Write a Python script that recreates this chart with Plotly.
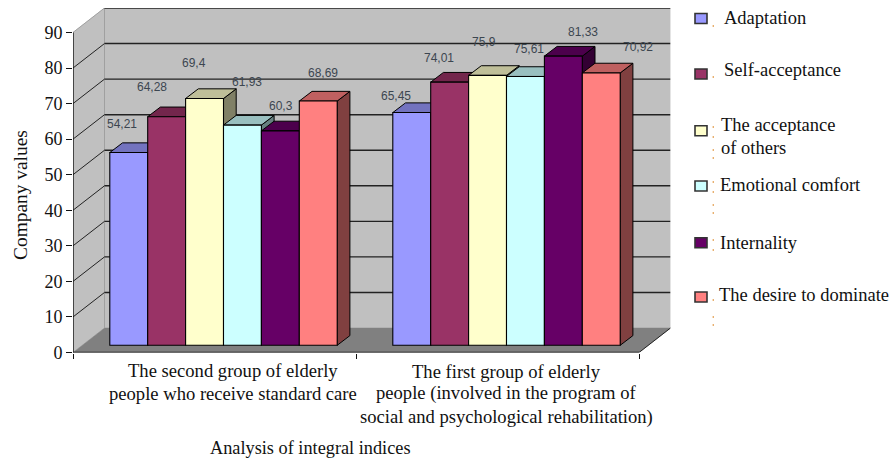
import plotly.graph_objects as go

GROUPS = ["second", "first"]
SERIES = ["Adaptation", "Self-acceptance", "The acceptance of others",
          "Emotional comfort", "Internality", "The desire to dominate"]
ADAPTATION = [54.21, 65.45]
SELF_ACCEPTANCE = [64.28, 74.01]
ACCEPTANCE_OTHERS = [69.4, 75.9]
EMOTIONAL_COMFORT = [61.93, 75.61]
INTERNALITY = [60.3, 81.33]
DESIRE_DOMINATE = [68.69, 76.6]
VALUES = [ADAPTATION, SELF_ACCEPTANCE, ACCEPTANCE_OTHERS,
          EMOTIONAL_COMFORT, INTERNALITY, DESIRE_DOMINATE]
VALUE_TEXT = [["54,21", "65,45"], ["64,28", "74,01"], ["69,4", "75,9"],
              ["61,93", "75,61"], ["60,3", "81,33"], ["68,69", "70,92"]]
COLORS = [(0x99, 0x99, 0xFF), (0x99, 0x33, 0x66), (0xFF, 0xFF, 0xCC),
          (0xCC, 0xFF, 0xFF), (0x66, 0x00, 0x66), (0xFF, 0x80, 0x80)]
LABEL_POS = [[(122, 124), (396, 96)], [(152, 87), (439, 58)], [(194, 63), (484, 42)],
             [(247, 82), (529, 49)], [(281, 106), (583, 32)], [(323, 73), (638, 47)]]
YTICKS = [0, 10, 20, 30, 40, 50, 60, 70, 80, 90]
GROUP_LINES = [("The second group of elderly", 232.5, 370),
               ("people who receive standard care", 232.5, 393),
               ("The first group of elderly", 506, 371),
               ("people (involved in the program of", 506, 393),
               ("social and psychological rehabilitation)", 506, 416.5)]
LEGEND_TEXT = [("Adaptation", 722, 18), ("Self-acceptance", 721.5, 70),
               ("The acceptance", 719, 125), ("of others", 719, 148),
               ("Emotional comfort", 718, 185), ("Internality", 718, 243),
               ("The desire to dominate", 716.5, 295)]
LEGEND_SWATCH_Y = [18.5, 74, 130.7, 186, 242.7, 297]
SPECK_Y = [26, 77, 127, 137, 150, 158, 182, 192, 205, 213, 240, 250, 300, 317, 325]

W, H = 890, 460
PX_L, PX_R, PX_B, PX_T = 73.0, 670.5, 352.5, 8.0
PX_PER_X = 283.0
PX_PER_Y = 3.561
WALL_DX, WALL_DY = 31.5 / PX_PER_X, 24.5 / PX_PER_Y
FRONT_DX, FRONT_DY = 9.0 / PX_PER_X, 7.2 / PX_PER_Y
BAR_DX, BAR_DY = 12.7 / PX_PER_X, 9.7 / PX_PER_Y
GAP, BAR_W = 27.8 / PX_PER_X, 37.9 / PX_PER_X
XMIN, XMAX = -0.5, 1.5
SERIF = "Liberation Serif, Times New Roman, serif"


def shade(c, f):
    return "rgb(%d,%d,%d)" % tuple(round(v * f) for v in c)


def poly(points, fill, line="#000000", width=1.0):
    path = "M " + " L ".join(f"{x:.5f} {y:.5f}" for x, y in points) + " Z"
    return dict(type="path", path=path, xref="x", yref="y", layer="below",
                fillcolor=fill, line=dict(color=line, width=width))


def seg(x0, y0, x1, y1, color="#000000", width=1.0):
    return dict(type="line", x0=x0, y0=y0, x1=x1, y1=y1, xref="x", yref="y", layer="below",
                line=dict(color=color, width=width))


def px(x, y):
    return x / W, 1 - y / H


shapes = []
# walls and floor
shapes.append(poly([(XMIN, 0), (XMIN + WALL_DX, WALL_DY), (XMIN + WALL_DX, 90 + WALL_DY), (XMIN, 90)],
                   "#C0C0C0", "#C0C0C0", 0.5))
shapes.append(poly([(XMIN + WALL_DX, WALL_DY), (XMAX + WALL_DX, WALL_DY),
                    (XMAX + WALL_DX, 90 + WALL_DY), (XMIN + WALL_DX, 90 + WALL_DY)],
                   "#C0C0C0", "#C0C0C0", 0.5))
shapes.append(poly([(XMIN, 0), (XMIN + WALL_DX, WALL_DY), (XMAX + WALL_DX, WALL_DY), (XMAX, 0)],
                   "#808080", "#808080", 0.5))
shapes.append(seg(XMIN + WALL_DX, WALL_DY, XMIN + WALL_DX, 90 + WALL_DY, "#A0A0A0", 1))
shapes.append(seg(XMIN, 90, XMIN + WALL_DX, 90 + WALL_DY, "#A0A0A0", 1))
for v in YTICKS[1:]:
    shapes.append(seg(XMIN + WALL_DX, v + WALL_DY, XMAX + WALL_DX, v + WALL_DY, "#222222", 1.4))
    if v < 90:
        shapes.append(seg(XMIN, v, XMIN + WALL_DX, v + WALL_DY, "#222222", 1))
shapes.append(seg(XMAX, 0, XMAX + WALL_DX, WALL_DY, "#222222", 1))

# depth faces of the bars, painted left to right
for g in range(len(GROUPS)):
    for s, vals in enumerate(VALUES):
        left = g - 0.5 + GAP + s * BAR_W + FRONT_DX
        right = left + BAR_W
        top = FRONT_DY + vals[g]
        shapes.append(poly([(right, FRONT_DY), (right + BAR_DX, FRONT_DY + BAR_DY),
                            (right + BAR_DX, top + BAR_DY), (right, top)], shade(COLORS[s], 0.5)))
    for s, vals in enumerate(VALUES):
        left = g - 0.5 + GAP + s * BAR_W + FRONT_DX
        right = left + BAR_W
        top = FRONT_DY + vals[g]
        shapes.append(poly([(left, top), (left + BAR_DX, top + BAR_DY),
                            (right + BAR_DX, top + BAR_DY), (right, top)], shade(COLORS[s], 0.75)))

# legend swatches
for c, yc in zip(COLORS, LEGEND_SWATCH_Y):
    x0, y0 = px(695, yc + 5)
    x1, y1 = px(707, yc - 5)
    shapes.append(dict(type="rect", xref="paper", yref="paper", x0=x0, y0=y0, x1=x1, y1=y1,
                       fillcolor=shade(c, 1), line=dict(color="#333333", width=1.6)))
for yc in SPECK_Y:
    x0, y0 = px(712.6, yc + 1)
    x1, y1 = px(714, yc - 1)
    shapes.append(dict(type="rect", xref="paper", yref="paper", x0=x0, y0=y0, x1=x1, y1=y1,
                       fillcolor="#E8B070", line=dict(width=0)))

fig = go.Figure()
for s, (name, vals) in enumerate(zip(SERIES, VALUES)):
    fig.add_trace(go.Bar(
        name=name, x=[0, 1], y=vals, base=FRONT_DY, width=BAR_W,
        offset=-0.5 + GAP + s * BAR_W + FRONT_DX,
        marker=dict(color=shade(COLORS[s], 1), line=dict(color="#000000", width=1.1)),
        showlegend=False, hoverinfo="skip"))
for xs, ys in (([XMIN, XMAX], [0, 0]), ([XMIN, XMIN], [0, 90])):
    fig.add_trace(go.Scatter(x=xs, y=ys, mode="lines", cliponaxis=False,
                             line=dict(color="#111111", width=1.4),
                             showlegend=False, hoverinfo="skip"))

ann = []


def label(text, x, y, size, color="#111111", anchor="center", family=SERIF, angle=0):
    ax, ay = px(x, y)
    ann.append(dict(text=text, x=ax, y=ay, xref="paper", yref="paper", showarrow=False,
                    xanchor=anchor, yanchor="middle", textangle=angle,
                    font=dict(family=family, size=size, color=color)))


for s in range(len(SERIES)):
    for g in range(len(GROUPS)):
        x, y = LABEL_POS[s][g]
        label(VALUE_TEXT[s][g], x, y, 12, "#3C4650", family="Liberation Sans, Arial, sans-serif")
for text, x, y in GROUP_LINES:
    label(text, x, y, 18.6)
for text, x, y in LEGEND_TEXT:
    label(text, x, y, 18.5, anchor="left")
label("Analysis of integral indices", 310.5, 448, 18.3)
label("Company values", 20, 195, 19.4, angle=-90)

fig.update_layout(
    width=W, height=H, margin=dict(l=0, r=0, t=0, b=0, autoexpand=False),
    paper_bgcolor="white", plot_bgcolor="white", barmode="overlay",
    shapes=shapes, annotations=ann, showlegend=False,
    xaxis=dict(domain=[PX_L / W, PX_R / W], range=[XMIN, XMAX + WALL_DX], showgrid=False,
               zeroline=False, showline=False, tickmode="array",
               tickvals=[-0.5, 0.5, 1.5], ticktext=["", "", ""],
               ticks="outside", ticklen=5, tickwidth=1.4, tickcolor="#111111", fixedrange=True),
    yaxis=dict(domain=[1 - PX_B / H, 1 - PX_T / H], range=[0, 90 + WALL_DY], showgrid=False,
               zeroline=False, showline=False, tickmode="array", tickvals=YTICKS,
               ticks="outside", ticklen=6, tickwidth=1.4, tickcolor="#111111",
               tickfont=dict(family=SERIF, size=18, color="#111111"), fixedrange=True),
)
fig.write_html("out.html", config=dict(displayModeBar=False),
               post_script="document.body.style.margin='0';")
